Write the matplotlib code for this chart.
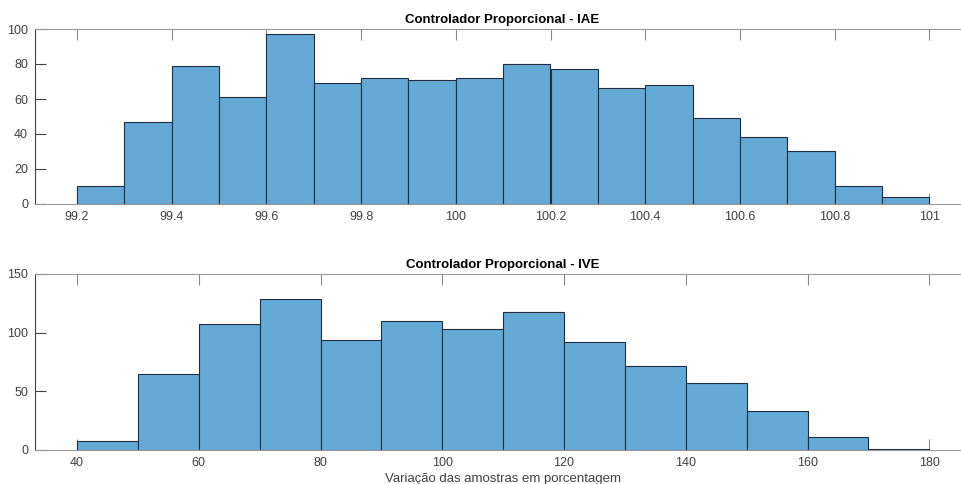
import matplotlib.pyplot as plt
import numpy as np

plt.rcParams['font.family'] = ['Liberation Sans', 'DejaVu Sans']

# IAE histogram (bin edges 99.2 .. 101, width 0.1)
iae_edges = np.round(np.arange(99.2, 101.01, 0.1), 2)
iae_counts = [10, 47, 79, 61, 97, 69, 72, 71, 72, 80, 77, 66, 68, 49, 38, 30, 10, 4]
iae_ticks = [99.2, 99.4, 99.6, 99.8, 100, 100.2, 100.4, 100.6, 100.8, 101]
iae_ticklabels = ["99.2", "99.4", "99.6", "99.8", "100", "100.2", "100.4", "100.6", "100.8", "101"]

# IVE histogram (bin edges 40 .. 180, width 10)
ive_edges = np.arange(40, 181, 10)
ive_counts = [8, 65, 107, 129, 94, 110, 103, 118, 92, 72, 57, 33, 11, 1]
ive_ticks = [40, 60, 80, 100, 120, 140, 160, 180]

face = '#65a9d7'
edge = '#1f2f3f'
axcol = '#404040'

fig = plt.figure(figsize=(9.61, 4.84), dpi=100)
W, H = 961, 484

def make_ax(top, bottom):
    left, right = 35, 970
    return fig.add_axes([left / W, 1 - bottom / H, (right - left) / W, (bottom - top) / H])

ax1 = make_ax(29, 204)
ax2 = make_ax(274, 450)

ax1.bar(iae_edges[:-1], iae_counts, width=0.1, align='edge', color=face, edgecolor=edge, linewidth=0.8)
ax2.bar(ive_edges[:-1], ive_counts, width=10, align='edge', color=face, edgecolor=edge, linewidth=0.8)

px1 = (929.3 - 77) / 1.8
ax1.set_xlim(99.2 - 42 / px1, 101 + (970 - 929.3) / px1)
ax1.set_ylim(0, 100)
ax1.set_xticks(iae_ticks)
ax1.set_xticklabels(iae_ticklabels)
ax1.set_yticks([0, 20, 40, 60, 80, 100])

px2 = (929.3 - 77) / 140
ax2.set_xlim(40 - 42 / px2, 180 + (970 - 929.3) / px2)
ax2.set_ylim(0, 150)
ax2.set_xticks(ive_ticks)
ax2.set_yticks([0, 50, 100, 150])

ax1.set_title("Controlador Proporcional - IAE", fontsize=9.5, fontweight='bold', pad=4)
ax2.set_title("Controlador Proporcional - IVE", fontsize=9.5, fontweight='bold', pad=4)
ax2.set_xlabel("Variação das amostras em porcentagem", fontsize=9.5, color=axcol, labelpad=3)

for ax in (ax1, ax2):
    ax.set_axisbelow(True)
    ax.tick_params(direction='in', length=8, width=0.8, colors=axcol, labelsize=9,
                   top=True, right=False, pad=5)
    ax.tick_params(axis='x', colors='#888888', labelcolor=axcol)
    for s in ax.spines.values():
        s.set_linewidth(0.8)
        s.set_color('#999999')
    ax.spines['left'].set_color(axcol)

fig.savefig("out.png", dpi=100)
